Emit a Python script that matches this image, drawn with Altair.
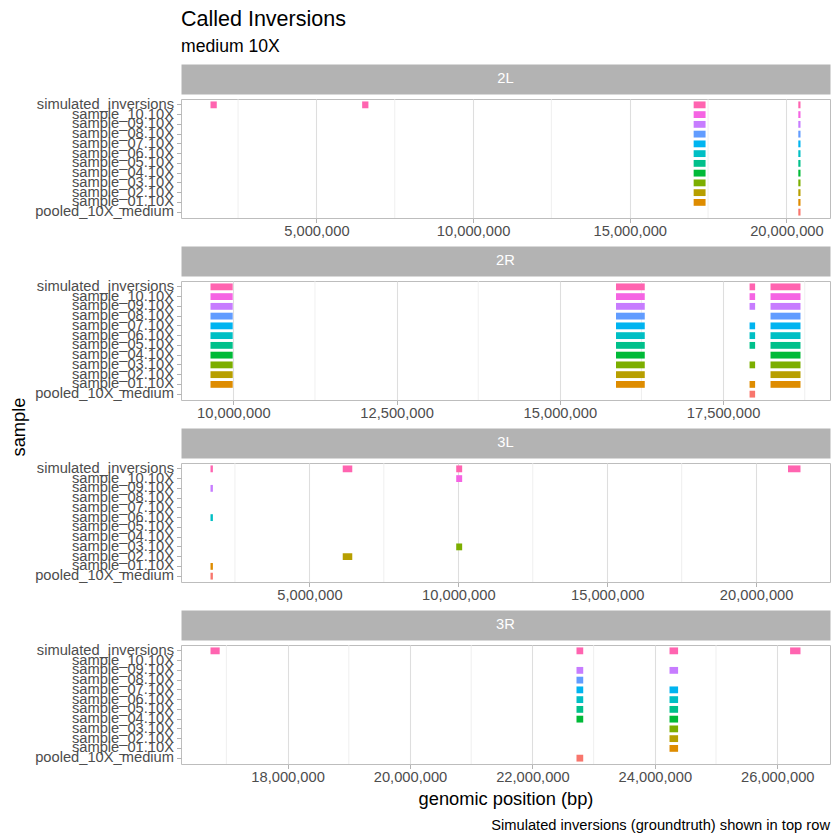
import altair as alt
import pandas as pd

FONT = "Liberation Sans"

title = "Called Inversions"
subtitle = "medium 10X"
caption = "Simulated inversions (groundtruth) shown in top row"
x_title = "genomic position (bp)"
y_title = "sample"

rows = ["simulated_inversions", "sample_10.10X", "sample_09.10X", "sample_08.10X",
        "sample_07.10X", "sample_06.10X", "sample_05.10X", "sample_04.10X",
        "sample_03.10X", "sample_02.10X", "sample_01.10X", "pooled_10X_medium"]
color_levels = ["pooled_10X_medium", "sample_01.10X", "sample_02.10X", "sample_03.10X",
                "sample_04.10X", "sample_05.10X", "sample_06.10X", "sample_07.10X",
                "sample_08.10X", "sample_09.10X", "sample_10.10X", "simulated_inversions"]
palette = ["#F8766D", "#DE8C00", "#B79F00", "#7CAE00", "#00BA38", "#00C08B",
           "#00BFC4", "#00B4F0", "#619CFF", "#C77CFF", "#F564E3", "#FF64B0"]

chroms = ["2L", "2R", "3L", "3R"]

S = "simulated_inversions"
ALL_S = rows[:11]
# inversion calls: chromosome, start, end, rows where called
inv_chrom = ["2L", "2L", "2L", "2L",
             "2R", "2R", "2R", "2R",
             "3L", "3L", "3L", "3L",
             "3R", "3R", "3R", "3R"]
inv_start = [1.62e6, 6.46e6, 17.04e6, 20.38e6,
             9.65e6, 15.86e6, 17.905e6, 18.226e6,
             1.68e6, 6.12e6, 9.93e6, 21.07e6,
             16.74e6, 22.72e6, 24.24e6, 26.21e6]
inv_end = [1.82e6, 6.66e6, 17.42e6, 20.45e6,
           9.99e6, 16.30e6, 17.99e6, 18.685e6,
           1.76e6, 6.44e6, 10.13e6, 21.49e6,
           16.89e6, 22.83e6, 24.38e6, 26.38e6]
inv_rows = [
    [S], [S], ALL_S, rows,
    ALL_S, ALL_S,
    [S, "sample_10.10X", "sample_09.10X", "sample_07.10X", "sample_06.10X",
     "sample_05.10X", "sample_03.10X", "sample_01.10X", "pooled_10X_medium"],
    ALL_S,
    [S, "sample_09.10X", "sample_06.10X", "sample_01.10X", "pooled_10X_medium"],
    [S, "sample_02.10X"],
    [S, "sample_10.10X", "sample_03.10X"],
    [S],
    [S],
    [S, "sample_09.10X", "sample_08.10X", "sample_07.10X", "sample_06.10X",
     "sample_05.10X", "sample_04.10X", "pooled_10X_medium"],
    [S, "sample_09.10X", "sample_07.10X", "sample_06.10X", "sample_05.10X",
     "sample_04.10X", "sample_03.10X", "sample_02.10X", "sample_01.10X"],
    [S],
]

major_ticks = {
    "2L": [5e6, 10e6, 15e6, 20e6],
    "2R": [10e6, 12.5e6, 15e6, 17.5e6],
    "3L": [5e6, 10e6, 15e6, 20e6],
    "3R": [18e6, 20e6, 22e6, 24e6, 26e6],
}
minor_ticks = {
    "2L": [2.5e6, 7.5e6, 12.5e6, 17.5e6],
    "2R": [11.25e6, 13.75e6, 16.25e6, 18.75e6],
    "3L": [2.5e6, 7.5e6, 12.5e6, 17.5e6],
    "3R": [17e6, 19e6, 21e6, 23e6, 25e6],
}

recs = []
for c, s, e, rr in zip(inv_chrom, inv_start, inv_end, inv_rows):
    for r in rr:
        recs.append({"chrom": c, "start": s, "end": e, "row": r})
df = pd.DataFrame(recs)

W = 649
PH = 119
SH = 30


def strip(ch, first):
    s = alt.Chart(pd.DataFrame({"chrom": [ch]})).mark_text(
        color="white", fontSize=14.7, font=FONT
    ).encode(
        text="chrom:N", x=alt.value(W / 2), y=alt.value(SH / 2)
    ).properties(
        width=W, height=SH,
        view=alt.ViewBackground(fill="#B3B3B3", stroke="transparent"),
    )
    if first:
        s = s.properties(title=alt.TitleParams(
            text=title, subtitle=subtitle, anchor="start", frame="group",
            font=FONT, fontSize=21.5, fontWeight="normal", color="black",
            subtitleFont=FONT, subtitleFontSize=17.6, subtitleColor="black",
            subtitlePadding=8, offset=8,
        ))
    return s


def panel(ch, last):
    d = df[df.chrom == ch]
    lo, hi = d.start.min(), d.end.max()
    pad = 0.05 * (hi - lo)
    xscale = alt.Scale(domain=[lo - pad, hi + pad], nice=False, zero=False)
    ax_kw = dict(
        values=major_ticks[ch], format=",.0f", grid=True, gridColor="#DEDEDE",
        gridWidth=1.1, domain=False, tickColor="#B3B3B3", tickSize=4.5,
        tickWidth=1, labelColor="#4D4D4D", labelFontSize=14.7, labelFont=FONT,
        labelPadding=1, labelFlush=False, labelOverlap=False,
    )
    if last:
        ax_kw.update(title=x_title, titleFont=FONT, titleFontSize=18.3,
                     titleFontWeight="normal", titleColor="black", titlePadding=6)
    else:
        ax_kw.update(title=None, minExtent=26, maxExtent=26)
    xaxis = alt.Axis(**ax_kw)
    yaxis = alt.Axis(
        title=None, grid=False, domain=False, tickColor="#B3B3B3", tickSize=4.5,
        labelColor="#4D4D4D", labelFontSize=14.7, labelFont=FONT, labelPadding=3,
        minExtent=145, maxExtent=145, labelOverlap=False,
    )
    minor = alt.Chart(pd.DataFrame({"pos": minor_ticks[ch]})).mark_rule(
        color="#EBEBEB", strokeWidth=0.8
    ).encode(x=alt.X("pos:Q", scale=xscale, axis=xaxis))
    bars = alt.Chart(d).mark_bar().encode(
        x=alt.X("start:Q", scale=xscale, axis=xaxis),
        x2="end:Q",
        y=alt.Y("row:N", sort=rows,
                scale=alt.Scale(domain=rows, paddingInner=0.3, paddingOuter=0.25),
                axis=yaxis),
        color=alt.Color("row:N", scale=alt.Scale(domain=color_levels, range=palette),
                        legend=None),
    )
    p = alt.layer(minor, bars).properties(width=W, height=PH)
    if last:
        p = p.properties(title=alt.TitleParams(
            text=caption, orient="bottom", anchor="end", frame="group",
            font=FONT, fontSize=14.7, fontWeight="normal", color="black", offset=10,
        ))
    return p


cells = []
for i, ch in enumerate(chroms):
    cells.append(strip(ch, i == 0))
    cells.append(panel(ch, i == len(chroms) - 1))

vcat = alt.vconcat(*cells, spacing=0)

ytitle = alt.Chart(pd.DataFrame({"t": [y_title]})).mark_text(
    angle=270, fontSize=18.3, font=FONT, color="black"
).encode(text="t:N", x=alt.value(10.5), y=alt.value(363)).properties(
    width=10, height=10, view=alt.ViewBackground(stroke="transparent")
)

chart = alt.hconcat(ytitle, vcat, spacing=5).properties(
    padding={"left": 0, "top": 0, "right": 0, "bottom": 0}
).configure(font=FONT).configure_view(stroke="#BDBDBD", strokeWidth=1)

chart.save("out.html", embed_options={"renderer": "svg", "actions": False})
